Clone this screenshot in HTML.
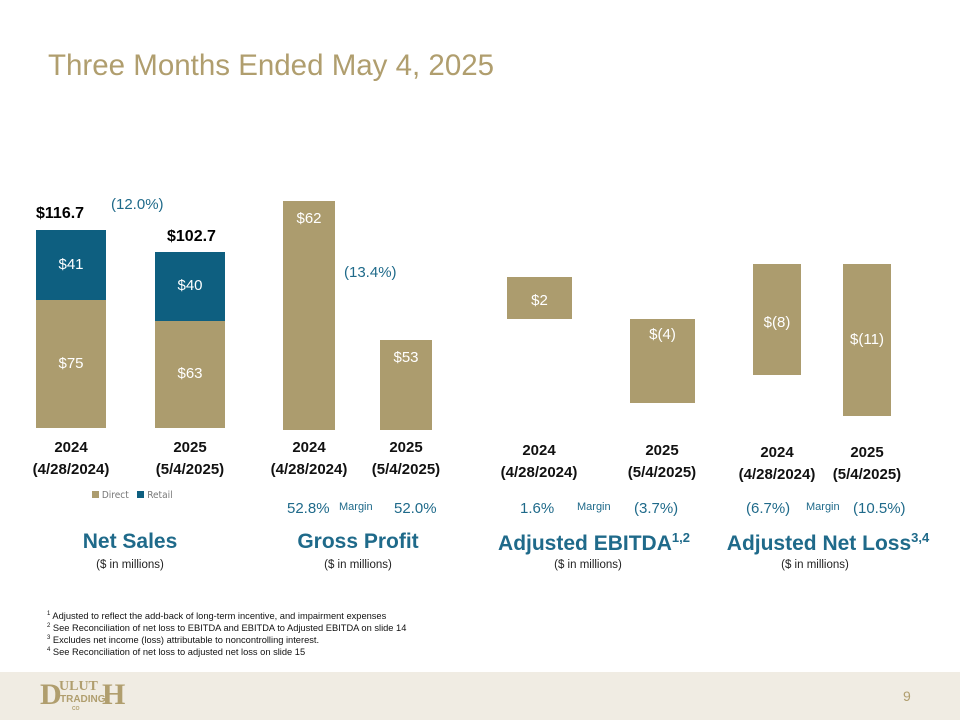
<!DOCTYPE html>
<html><head><meta charset="utf-8"><style>
body{margin:0;width:960px;height:720px;position:relative;background:#fff;font-family:"Liberation Sans",sans-serif;overflow:hidden}
.a{position:absolute;white-space:nowrap}
.bar{position:absolute}
.lbl{position:absolute;color:#fff;font-size:15px;text-align:center;font-family:"Liberation Sans",sans-serif}
.x{position:absolute;text-align:center;font-weight:bold;font-size:15px;line-height:22px;color:#111;font-family:"Liberation Sans",sans-serif;width:120px}
.pct{color:#1f6a8a;font-size:15px}
.mg{color:#1f6a8a;font-size:11px}
.h{color:#1f6a8a;font-size:21px;font-weight:bold;text-align:center;width:220px}
.sub{font-size:11.5px;color:#222;text-align:center;width:220px}
.fn{font-size:9.3px;color:#111;left:47px}
.fn sup{font-size:6px}
</style></head><body>
<div class="a" style="left:48px;top:49px;font-size:29.5px;color:#b09e6e">Three Months Ended May 4, 2025</div>
<div id="charts"></div>

<div class="a" style="left:36px;top:205px;font-weight:bold;font-size:16px">$116.7</div>
<div class="a" style="left:167px;top:228px;font-weight:bold;font-size:16px">$102.7</div>
<div class="a pct" style="left:111px;top:196px">(12.0%)</div>
<div class="a pct" style="left:344px;top:264px">(13.4%)</div>

<div class="a" style="left:92px;top:490px;font-size:10px;color:#777;font-family:'DejaVu Sans Condensed',sans-serif">
<span><span style="display:inline-block;width:7px;height:7px;background:#ac9c6e"></span> Direct</span>&nbsp;&nbsp;
<span><span style="display:inline-block;width:7px;height:7px;background:#0e5f80"></span> Retail</span></div>

<div class="a pct" style="left:287px;top:500px">52.8%</div>
<div class="a mg" style="left:339px;top:501px">Margin</div>
<div class="a pct" style="left:394px;top:500px">52.0%</div>
<div class="a pct" style="left:520px;top:500px">1.6%</div>
<div class="a mg" style="left:577px;top:501px">Margin</div>
<div class="a pct" style="left:634px;top:500px">(3.7%)</div>
<div class="a pct" style="left:746px;top:500px">(6.7%)</div>
<div class="a mg" style="left:806px;top:501px">Margin</div>
<div class="a pct" style="left:853px;top:500px">(10.5%)</div>

<div class="a h" style="left:20px;top:530px">Net Sales</div>
<div class="a h" style="left:248px;top:530px">Gross Profit</div>
<div class="a h" style="left:484px;top:530px">Adjusted EBITDA<sup style="font-size:13px">1,2</sup></div>
<div class="a h" style="left:718px;top:530px">Adjusted Net Loss<sup style="font-size:13px">3,4</sup></div>
<div class="a sub" style="left:20px;top:559px">($ in millions)</div>
<div class="a sub" style="left:248px;top:559px">($ in millions)</div>
<div class="a sub" style="left:478px;top:559px">($ in millions)</div>
<div class="a sub" style="left:705px;top:559px">($ in millions)</div>

<div class="a fn" style="top:611px"><sup>1</sup> Adjusted to reflect the add-back of long-term incentive, and impairment expenses</div>
<div class="a fn" style="top:623px"><sup>2</sup> See Reconciliation of net loss to EBITDA and EBITDA to Adjusted EBITDA on slide 14</div>
<div class="a fn" style="top:635px"><sup>3</sup> Excludes net income (loss) attributable to noncontrolling interest.</div>
<div class="a fn" style="top:647px"><sup>4</sup> See Reconciliation of net loss to adjusted net loss on slide 15</div>

<div class="a" style="left:0;top:672px;width:960px;height:48px;background:#f0ece3"></div>
<div class="a" style="left:40px;top:680px;width:84px;height:34px;color:#b09e6e;font-family:'Liberation Serif',serif;font-weight:bold;line-height:1">
<div style="position:absolute;left:0;top:0;font-size:30px">D</div>
<div style="position:absolute;left:19px;top:0;font-size:14px;letter-spacing:0px">ULUT</div>
<div style="position:absolute;left:62px;top:0;font-size:30px">H</div>
<div style="position:absolute;left:20px;top:15px;font-size:10px;font-family:'Liberation Sans';font-weight:bold">TRADING</div>
<div style="position:absolute;left:32px;top:27px;font-size:5px;font-family:'Liberation Sans'">CO</div></div>
<div class="a" style="left:903px;top:688px;font-size:14px;color:#b09e6e">9</div>

<script>
const years = ["2024","2025"];
const dates = ["(4/28/2024)","(5/4/2025)"];
const salesDirect = [75, 63];
const salesRetail = [41, 40];
const grossProfit = [62, 53];
const adjEbitda = [2, -4];
const adjNetLoss = [-8, -11];
const ebitdaLabels = ["$2","$(4)"];
const netLossLabels = ["$(8)","$(11)"];

const root = document.getElementById('charts');
const TAN = '#ac9c6e', BLUE = '#0e5f80';
function rect(x, y1, y2, w, color, name) {
  const d = document.createElement('div');
  d.className = 'bar';
  
  
  const t = Math.min(y1, y2), b = Math.max(y1, y2);
  d.style.cssText = `left:${x}px;top:${t}px;width:${w}px;height:${b - t}px;background:${color}`;
  root.appendChild(d);
  return [t, b];
}
function label(x, w, y, text, name) {
  const d = document.createElement('div');
  d.className = 'lbl';
  
  
  d.style.cssText = `left:${x}px;top:${y}px;width:${w}px`;
  d.textContent = text;
  root.appendChild(d);
}
function xlab(cx, y, i, name) {
  const d = document.createElement('div');
  d.className = 'x';
  
  
  d.style.left = (cx - 60) + 'px';
  d.style.top = y + 'px';
  d.innerHTML = years[i] + '<br>' + dates[i];
  root.appendChild(d);
}
const nsY = v => 428 - v * 1.705;
const nsX = [36, 155];
years.forEach((y, i) => {
  const [t1] = rect(nsX[i], nsY(0), nsY(salesDirect[i]), 70, TAN, 'bar-direct-' + y);
  const [t2] = rect(nsX[i], nsY(salesDirect[i]), nsY(salesDirect[i] + salesRetail[i]), 70, BLUE, 'bar-retail-' + y);
  label(nsX[i], 70, (t1 + 428) / 2 - 9, '$' + salesDirect[i], 'label-direct-' + y);
  label(nsX[i], 70, (t2 + t1) / 2 - 9, '$' + salesRetail[i], 'label-retail-' + y);
  xlab(nsX[i] + 35, 437, i, 'net-sales-x-label-' + y);
});
const gpY = v => 430 - (v - 47.2) * 15.44;
const gpX = [283, 380];
years.forEach((y, i) => {
  const [t] = rect(gpX[i], gpY(47.2), gpY(grossProfit[i]), 52, TAN, 'bar-gross-profit-' + y);
  label(gpX[i], 52, t + 9, '$' + grossProfit[i], 'label-gross-profit-' + y);
  xlab(gpX[i] + 26, 437, i, 'gross-profit-x-label-' + y);
});
const ebY = v => 319 - v * 21;
const ebX = [507, 630];
years.forEach((y, i) => {
  const [t, b] = rect(ebX[i], ebY(0), ebY(adjEbitda[i]), 65, TAN, 'bar-ebitda-' + y);
  label(ebX[i], 65, adjEbitda[i] >= 0 ? (t + b) / 2 - 6 : t + 7, ebitdaLabels[i], 'label-ebitda-' + y);
  xlab(ebX[i] + 32, 440, i, 'ebitda-x-label-' + y);
});
const nlY = v => 264 - v * 13.85;
const nlX = [753, 843];
years.forEach((y, i) => {
  const [t, b] = rect(nlX[i], nlY(0), nlY(adjNetLoss[i]), 48, TAN, 'bar-net-loss-' + y);
  label(nlX[i] - 4, 56, t + 50 + i * 17, netLossLabels[i], 'label-net-loss-' + y);
  xlab(nlX[i] + 24, 442, i, 'net-loss-x-label-' + y);
});
</script>
</body></html>
